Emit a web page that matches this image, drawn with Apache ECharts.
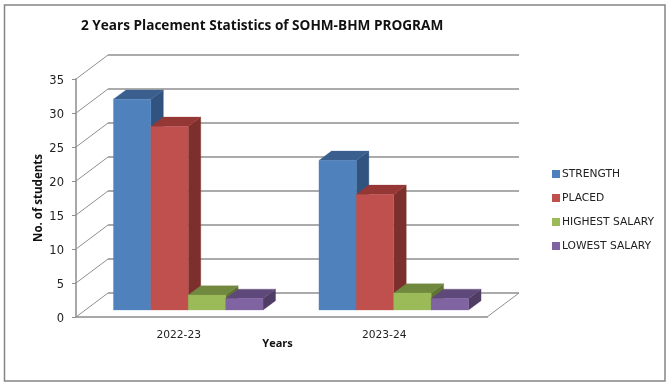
<!DOCTYPE html>
<html>
<head>
<meta charset="utf-8">
<style>html,body{margin:0;padding:0;background:#fff}#c{width:669px;height:388px}</style>
<script src="https://cdn.jsdelivr.net/npm/echarts@6/dist/echarts.min.js"></script>
</head>
<body>
<div id="c"></div>
<script>
const categories = ['2022-23', '2023-24'];
const strength = [31, 22];
const placed = [27, 17];
const highestSalary = [2.2, 2.5];
const lowestSalary = [1.7, 1.7];
const yTicks = [0, 5, 10, 15, 20, 25, 30, 35];

const wallDepth = [32, -24];
const barShift = [9.5, -7];
const barDepth = [12.5, -9.3];
const barShare = 0.182;
const gray = '#8f8f8f';

function barSeries(name, values, offset, front, top, side) {
  return {
    name, type: 'custom', data: values.map((v, i) => [i, v]),
    itemStyle: { color: front }, clip: false, z: 5,
    encode: { x: 0, y: 1 },
    renderItem(params, api) {
      const i = api.value(0), v = api.value(1);
      const base = api.coord([i, 0]), tip = api.coord([i, v]);
      const w = api.size([1, 0])[0] * barShare;
      const x0 = base[0] + barShift[0] + offset * w, x1 = x0 + w;
      const y0 = base[1] + barShift[1], y1 = tip[1] + barShift[1];
      const dx = barDepth[0], dy = barDepth[1];
      const poly = (pts, fill) => ({ type: 'polygon', shape: { points: pts }, style: { fill, stroke: fill, lineWidth: 0.3 } });
      return { type: 'group', children: [
        poly([[x1, y1], [x1 + dx, y1 + dy], [x1 + dx, y0 + dy], [x1, y0]], side),
        poly([[x0, y1], [x0 + dx, y1 + dy], [x1 + dx, y1 + dy], [x1, y1]], top),
        poly([[x0, y1], [x1, y1], [x1, y0], [x0, y0]], front)
      ] };
    }
  };
}

const wallSeries = {
  type: 'custom', silent: true, clip: false, z: 1,
  data: yTicks.map(v => [0, v]), encode: { x: 0, y: 1 },
  tooltip: { show: false },
  renderItem(params, api) {
    const v = api.value(1);
    const y = api.coord([0, v])[1];
    const cs = params.coordSys;
    const dx = wallDepth[0], dy = wallDepth[1];
    const style = { stroke: gray, lineWidth: 1.4 };
    const kids = [
      { type: 'line', shape: { x1: cs.x, y1: y, x2: cs.x + dx, y2: y + dy }, style: { stroke: gray, lineWidth: 1 } },
      { type: 'line', shape: { x1: cs.x + dx, y1: y + dy, x2: cs.x + cs.width + dx, y2: y + dy }, style }
    ];
    if (v === 0) {
      kids.push({ type: 'line', shape: { x1: cs.x + cs.width, y1: y, x2: cs.x + cs.width + dx, y2: y + dy }, style: { stroke: gray, lineWidth: 1 } });
    }
    return { type: 'group', children: kids };
  }
};

const textFont = '"DejaVu Sans", sans-serif';
const chart = echarts.init(document.getElementById('c'), null, { renderer: 'canvas' });
chart.setOption({
  animation: false,
  backgroundColor: '#fff',
  title: {
    text: '2 Years Placement Statistics of SOHM-BHM PROGRAM',
    left: 76, top: 14,
    textStyle: { fontFamily: '"Open Sans", sans-serif', fontWeight: 'bold', fontSize: 13.6, color: '#111' }
  },
  graphic: [{ type: 'rect', shape: { x: 4.5, y: 5, width: 660.5, height: 376 }, style: { fill: 'none', stroke: '#858585', lineWidth: 1.5 }, silent: true, z: 0 }],
  legend: {
    orient: 'vertical', left: 547, top: 162, itemWidth: 8, itemHeight: 8, itemGap: 10,
    icon: 'rect',
    data: ['STRENGTH', 'PLACED', 'HIGHEST SALARY', 'LOWEST SALARY'],
    textStyle: { fontFamily: textFont, fontSize: 10.7, color: '#222', padding: [0, 0, 0, -3], lineHeight: 14 }
  },
  grid: { left: 76, right: 182, top: 79, bottom: 71, containLabel: false },
  xAxis: {
    type: 'category', data: categories,
    axisLine: { show: true, lineStyle: { color: '#a8a8a8', width: 2 } },
    axisTick: { show: false },
    axisLabel: { margin: 13, fontFamily: textFont, fontSize: 10.7, color: '#222' },
    name: 'Years', nameLocation: 'center', nameGap: 21, nameMoveOverlap: false,
    nameTextStyle: { fontFamily: '"Open Sans", sans-serif', fontWeight: 'bold', fontSize: 11, color: '#111', padding: [0, 8, 0, 0] }
  },
  yAxis: {
    type: 'value', min: 0, max: 35, interval: 5,
    axisLine: { show: true, lineStyle: { color: '#a8a8a8', width: 2 } },
    axisTick: { show: true, length: 4, lineStyle: { color: '#8f8f8f' } },
    splitLine: { show: false },
    axisLabel: { margin: 12, fontFamily: textFont, fontSize: 11.5, color: '#222', verticalAlign: 'top', lineHeight: 4 },
    name: 'No. of students', nameLocation: 'center', nameGap: 31, nameRotate: 90, nameMoveOverlap: false,
    nameTextStyle: { fontFamily: '"Open Sans", sans-serif', fontWeight: 'bold', fontSize: 11.5, color: '#111' }
  },
  series: [
    wallSeries,
    barSeries('STRENGTH', strength, -2, '#4F81BD', '#3A5F8E', '#30547F'),
    barSeries('PLACED', placed, -1, '#C0504D', '#953735', '#7D2F2D'),
    barSeries('HIGHEST SALARY', highestSalary, 0, '#9BBB59', '#71893F', '#5F7530'),
    barSeries('LOWEST SALARY', lowestSalary, 1, '#8064A2', '#5F497A', '#4F3D66')
  ]
});
</script>
</body>
</html>
